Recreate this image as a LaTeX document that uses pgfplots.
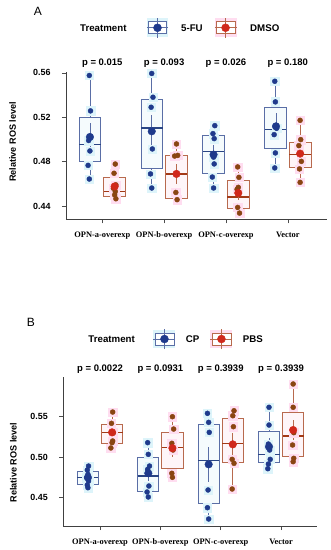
\documentclass[border=0pt]{standalone}
\usepackage{fontspec}
\setmainfont{Liberation Sans}
\newfontfamily\serifb{Liberation Serif}
\usepackage{pgfplots}
\pgfplotsset{compat=1.18}
\usepgfplotslibrary{statistics}

\definecolor{bpt}{HTML}{1F3A8C}
\definecolor{bbox}{HTML}{5A6EA6}
\definecolor{bmed}{HTML}{2A4584}
\definecolor{bfill}{HTML}{EEF9FC}
\definecolor{bhalo}{HTML}{DDF4FA}
\definecolor{rpt}{HTML}{8A4512}
\definecolor{rmean}{HTML}{D0281C}
\definecolor{rbox}{HTML}{B86A4E}
\definecolor{rmed}{HTML}{A23A16}
\definecolor{rfill}{HTML}{FDEFF4}
\definecolor{rhalo}{HTML}{FFDDF0}

\tikzset{
  keytext/.style={font=\bfseries\fontsize{9.7}{11}\selectfont, anchor=west, inner sep=0pt},
  ptext/.style={font=\bfseries\fontsize{9.5}{11}\selectfont},
}
\pgfplotsset{
  bluebox/.style={draw=bbox, fill=bfill, fill opacity=0.6, line width=0.8pt, solid,
    boxplot/draw direction=y,
    boxplot/every median/.style={draw=bmed, line width=1.5pt},
    boxplot/box extend=0.35, boxplot/whisker extend=0},
  redbox/.style={draw=rbox, fill=rfill, fill opacity=0.6, line width=0.8pt, solid,
    boxplot/draw direction=y,
    boxplot/every median/.style={draw=rmed, line width=1.5pt},
    boxplot/box extend=0.35, boxplot/whisker extend=0},
  bhalos/.style={only marks, mark=square*, mark size=4.2pt, color=bhalo},
  rhalos/.style={only marks, mark=square*, mark size=4.2pt, color=rhalo},
  bpts/.style={only marks, mark=*, mark size=2.5pt, color=bpt},
  rpts/.style={only marks, mark=*, mark size=2.5pt, color=rpt},
  bmean/.style={only marks, mark=*, mark size=3.8pt, color=bpt,
    error bars/.cd, y dir=both, y explicit, error mark=none,
    error bar style={draw=bbox, line width=0.8pt}},
  rmeanst/.style={only marks, mark=*, mark size=3.8pt, color=rmean,
    error bars/.cd, y dir=both, y explicit, error mark=none,
    error bar style={draw=rbox, line width=0.8pt}},
  common/.style={scale only axis, clip=false,
    axis x line*=bottom, axis y line*=left,
    axis line style={-, draw=black!75, line width=0.6pt},
    tick align=outside, major tick length=4pt,
    tick style={draw=black!70, line width=0.5pt},
    xtick={0,1,2,3},
    xticklabels={OPN-a-overexp,OPN-b-overexp,OPN-c-overexp,Vector},
    yticklabel style={font=\bfseries\fontsize{8.9}{10}\selectfont, xshift=-8pt},
    xticklabel style={font=\serifb\bfseries\fontsize{8.4}{10}\selectfont, yshift=-5pt},
  },
}
\newcommand{\bbx}[6]{\addplot[bluebox, boxplot prepared={draw direction=y, draw position=#1, lower whisker=#2, lower quartile=#3, median=#4, upper quartile=#5, upper whisker=#6}] coordinates {};}
\newcommand{\rbx}[6]{\addplot[redbox, boxplot prepared={draw direction=y, draw position=#1, lower whisker=#2, lower quartile=#3, median=#4, upper quartile=#5, upper whisker=#6}] coordinates {};}
% legend key: #1 halo col, #2 line col, #3 dot col, #4 halo x1, #5 halo x2, #6 box x1, #7 box x2, #8 centre x
\newcommand{\key}[8]{%
  \addplot[fill=#1, draw=none] coordinates {(#4,\hya) (#5,\hya) (#5,\hyb) (#4,\hyb)} --cycle;
  \addplot[fill=white, draw=#2, line width=0.7pt] coordinates {(#6,\bya) (#7,\bya) (#7,\byb) (#6,\byb)} --cycle;
  \addplot[draw=#2, line width=0.7pt] coordinates {(#8,\vya) (#8,\vyb)};
  \addplot[draw=#2, line width=0.7pt] coordinates {(#4,\yc) (#5,\yc)};
  \addplot[only marks, mark=*, mark size=4pt, color=#3] coordinates {(#8,\yc)};
}

\begin{document}
\begin{tikzpicture}
\path[use as bounding box] (0,0) rectangle (330pt,-550pt);

% ---------------- Panel A ----------------
\node[font=\fontsize{12}{14}\selectfont] at (38pt,-11.5pt) {A};
\node[rotate=90, font=\bfseries\fontsize{9.1}{11}\selectfont] at (12.5pt,-142pt) {Relative ROS level};
\begin{axis}[common,
  at={(66pt,-219.3pt)}, anchor=south west, width=260.7pt, height=147.6pt,
  xmin=-0.587, xmax=3.63, ymin=0.428, ymax=0.561,
  ytick={0.44,0.48,0.52,0.56}, yticklabels={0.44,0.48,0.52,0.56},
]
\def\hya{0.5923}\def\hyb{0.6090}\def\bya{0.5952}\def\byb{0.6060}\def\vya{0.5916}\def\vyb{0.6096}\def\yc{0.6006}
\key{bhalo}{bbox}{bpt}{0.72}{1.066}{0.744}{1.042}{0.893}
\key{rhalo}{rbox}{rmean}{1.816}{2.172}{1.840}{2.147}{1.994}
\node[keytext] at (axis cs:-0.361,0.6006) {Treatment};
\node[keytext] at (axis cs:1.273,0.6006) {5-FU};
\node[keytext] at (axis cs:2.390,0.6006) {DMSO};

\addplot[bhalos] coordinates {
(-0.21,0.5576) (-0.19,0.5257) (-0.22,0.4990) (-0.20,0.4896) (-0.23,0.4766) (-0.21,0.4643)
(0.80,0.5594) (0.82,0.5380) (0.79,0.5290) (0.81,0.4914) (0.78,0.4689) (0.80,0.4562)
(1.82,0.5124) (1.79,0.5052) (1.81,0.5007) (1.80,0.4840) (1.81,0.4779) (1.78,0.4661) (1.80,0.4562)
(2.79,0.5524) (2.80,0.5338) (2.82,0.5100) (2.78,0.5043) (2.80,0.4878) (2.79,0.4743)};
\addplot[rhalos] coordinates {
(0.21,0.4778) (0.19,0.4695) (0.22,0.4590) (0.18,0.4560) (0.21,0.4530) (0.20,0.4500) (0.22,0.4465)
(1.20,0.4959) (1.22,0.4856) (1.17,0.4850) (1.19,0.4522) (1.21,0.4457)
(2.19,0.4752) (2.21,0.4658) (2.20,0.4568) (2.18,0.4550) (2.19,0.4387) (2.22,0.4336)
(3.20,0.5172) (3.21,0.4998) (3.18,0.4944) (3.22,0.4802) (3.19,0.4734) (3.20,0.4613)};

\bbx{-0.2}{0.4643}{0.4800}{0.4953}{0.5200}{0.5576}
\bbx{0.8}{0.4562}{0.4743}{0.5104}{0.5359}{0.5594}
\bbx{1.8}{0.4562}{0.4691}{0.4893}{0.5037}{0.5124}
\bbx{2.8}{0.4743}{0.4923}{0.5088}{0.5287}{0.5524}
\rbx{0.2}{0.4465}{0.4486}{0.4532}{0.4661}{0.4778}
\rbx{1.2}{0.4457}{0.4472}{0.4689}{0.4856}{0.4959}
\rbx{2.2}{0.4336}{0.4382}{0.4481}{0.4631}{0.4752}
\rbx{3.2}{0.4613}{0.4752}{0.4863}{0.4977}{0.5172}

\addplot[bpts] coordinates {
(-0.21,0.5576) (-0.19,0.5257) (-0.22,0.4990) (-0.20,0.4896) (-0.23,0.4766) (-0.21,0.4643)
(0.80,0.5594) (0.82,0.5380) (0.79,0.5290) (0.81,0.4914) (0.78,0.4689) (0.80,0.4562)
(1.82,0.5124) (1.79,0.5052) (1.81,0.5007) (1.80,0.4840) (1.81,0.4779) (1.78,0.4661) (1.80,0.4562)
(2.79,0.5524) (2.80,0.5338) (2.82,0.5100) (2.78,0.5043) (2.80,0.4878) (2.79,0.4743)};
\addplot[rpts] coordinates {
(0.21,0.4778) (0.19,0.4695) (0.22,0.4590) (0.18,0.4560) (0.21,0.4530) (0.20,0.4500) (0.22,0.4465)
(1.20,0.4959) (1.22,0.4856) (1.17,0.4850) (1.19,0.4522) (1.21,0.4457)
(2.19,0.4752) (2.21,0.4658) (2.20,0.4568) (2.18,0.4550) (2.19,0.4387) (2.22,0.4336)
(3.20,0.5172) (3.21,0.4998) (3.18,0.4944) (3.22,0.4802) (3.19,0.4734) (3.20,0.4613)};
\addplot[bmean] coordinates {
(-0.20,0.5022) +- (0,0.013) (0.80,0.5073) +- (0,0.015) (1.80,0.4863) +- (0,0.009) (2.81,0.5118) +- (0,0.012)};
\addplot[rmeanst] coordinates {
(0.20,0.4576) +- (0,0.005) (1.20,0.4689) +- (0,0.009) (2.20,0.4517) +- (0,0.006) (3.20,0.4872) +- (0,0.007)};

\node[ptext] at (axis cs:0,0.5684) {p = 0.015};
\node[ptext] at (axis cs:1,0.5684) {p = 0.093};
\node[ptext] at (axis cs:2,0.5684) {p = 0.026};
\node[ptext] at (axis cs:3,0.5684) {p = 0.180};
\end{axis}

% ---------------- Panel B ----------------
\node[font=\fontsize{12}{14}\selectfont] at (30.8pt,-322.5pt) {B};
\node[rotate=90, font=\bfseries\fontsize{9.1}{11}\selectfont] at (13.3pt,-462.5pt) {Relative ROS level};
\begin{axis}[common,
  at={(63.3pt,-526pt)}, anchor=south west, width=254pt, height=148.7pt,
  xmin=-0.608, xmax=3.60, ymin=0.4144, ymax=0.5989,
  ytick={0.45,0.50,0.55}, yticklabels={0.45,0.50,0.55},
]
\def\hya{0.6353}\def\hyb{0.6576}\def\bya{0.6390}\def\byb{0.6539}\def\vya{0.6340}\def\vyb{0.6588}\def\yc{0.6464}
\key{bhalo}{bbox}{bpt}{0.886}{1.250}{0.911}{1.225}{1.068}
\key{rhalo}{rbox}{rmean}{1.829}{2.194}{1.854}{2.169}{2.012}
\node[keytext] at (axis cs:-0.194,0.6464) {Treatment};
\node[keytext] at (axis cs:1.419,0.6464) {CP};
\node[keytext] at (axis cs:2.363,0.6464) {PBS};

\addplot[bhalos] coordinates {
(-0.19,0.4888) (-0.21,0.4839) (-0.20,0.4785) (-0.22,0.4745) (-0.19,0.4702) (-0.21,0.4653) (-0.20,0.4619)
(0.79,0.5178) (0.80,0.5033) (0.82,0.4888) (0.79,0.4847) (0.81,0.4640) (0.78,0.4566) (0.80,0.4504)
(1.78,0.5542) (1.80,0.5430) (1.81,0.5306) (1.79,0.4591) (1.78,0.4371) (1.80,0.4231)
(2.80,0.5617) (2.80,0.5397) (2.79,0.5161) (2.81,0.5087) (2.82,0.4971) (2.79,0.4913) (2.78,0.4855)};
\addplot[rhalos] coordinates {
(0.21,0.5558) (0.19,0.5418) (0.22,0.5300) (0.21,0.5199) (0.20,0.5178) (0.18,0.5112)
(1.20,0.5500) (1.22,0.5347) (1.19,0.5170) (1.21,0.5087) (1.19,0.4798) (1.20,0.4748)
(2.22,0.5574) (2.20,0.5512) (2.21,0.5376) (2.19,0.4971) (2.22,0.4922) (2.19,0.4603)
(3.20,0.5906) (3.20,0.5617) (3.21,0.5302) (3.19,0.5149) (3.21,0.4984) (3.20,0.4942)};

\bbx{-0.2}{0.4619}{0.4661}{0.4743}{0.4826}{0.4888}
\bbx{0.8}{0.4504}{0.4578}{0.4764}{0.4996}{0.5178}
\bbx{1.8}{0.4231}{0.4425}{0.4954}{0.5405}{0.5542}
\bbx{2.8}{0.4855}{0.4934}{0.5033}{0.5314}{0.5617}
\rbx{0.2}{0.5112}{0.5170}{0.5302}{0.5409}{0.5558}
\rbx{1.2}{0.4748}{0.4860}{0.5120}{0.5306}{0.5500}
\rbx{2.2}{0.4603}{0.4934}{0.5170}{0.5480}{0.5574}
\rbx{3.2}{0.4942}{0.5009}{0.5261}{0.5554}{0.5906}

\addplot[bpts] coordinates {
(-0.19,0.4888) (-0.21,0.4839) (-0.20,0.4785) (-0.22,0.4745) (-0.19,0.4702) (-0.21,0.4653) (-0.20,0.4619)
(0.79,0.5178) (0.80,0.5033) (0.82,0.4888) (0.79,0.4847) (0.81,0.4640) (0.78,0.4566) (0.80,0.4504)
(1.78,0.5542) (1.80,0.5430) (1.81,0.5306) (1.79,0.4591) (1.78,0.4371) (1.80,0.4231)
(2.80,0.5617) (2.80,0.5397) (2.79,0.5161) (2.81,0.5087) (2.82,0.4971) (2.79,0.4913) (2.78,0.4855)};
\addplot[rpts] coordinates {
(0.21,0.5558) (0.19,0.5418) (0.22,0.5300) (0.21,0.5199) (0.20,0.5178) (0.18,0.5112)
(1.20,0.5500) (1.22,0.5347) (1.19,0.5170) (1.21,0.5087) (1.19,0.4798) (1.20,0.4748)
(2.22,0.5574) (2.20,0.5512) (2.21,0.5376) (2.19,0.4971) (2.22,0.4922) (2.19,0.4603)
(3.20,0.5906) (3.20,0.5617) (3.21,0.5302) (3.19,0.5149) (3.21,0.4984) (3.20,0.4942)};
\addplot[bmean] coordinates {
(-0.20,0.4745) +- (0,0.003) (0.80,0.4798) +- (0,0.009) (1.80,0.4909) +- (0,0.022) (2.80,0.5128) +- (0,0.011)};
\addplot[rmeanst] coordinates {
(0.20,0.5306) +- (0,0.007) (1.20,0.5110) +- (0,0.011) (2.20,0.5157) +- (0,0.014) (3.20,0.5335) +- (0,0.012)};

\node[ptext] at (axis cs:0,0.6092) {p = 0.0022};
\node[ptext] at (axis cs:1,0.6092) {p = 0.0931};
\node[ptext] at (axis cs:2,0.6092) {p = 0.3939};
\node[ptext] at (axis cs:3,0.6092) {p = 0.3939};
\end{axis}
\end{tikzpicture}
\end{document}
